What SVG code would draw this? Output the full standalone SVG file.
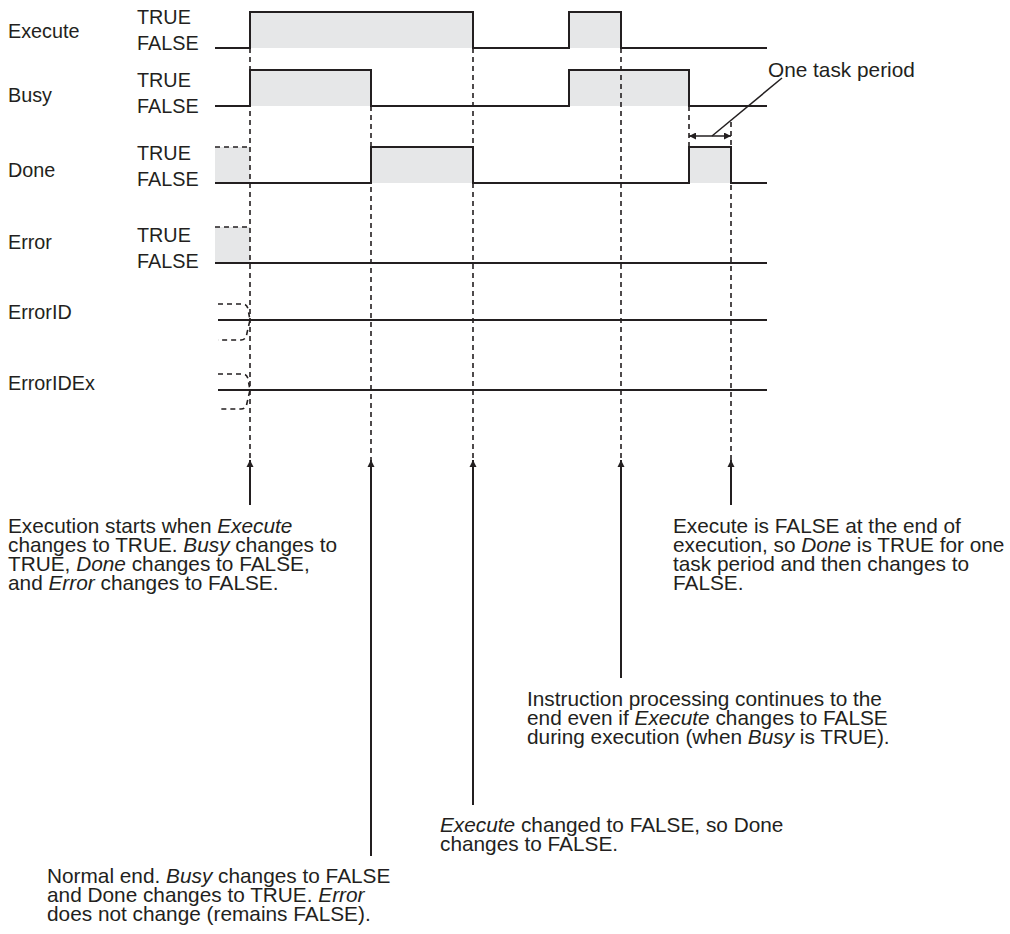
<svg xmlns="http://www.w3.org/2000/svg" width="1010" height="934" viewBox="0 0 1010 934">
<style>
text{font-family:"Liberation Sans",Arial,sans-serif;fill:#231f20}
.lbl{font-size:19.8px}
.body{font-size:20.8px}
.it{font-style:italic}
.sig{fill:none;stroke:#231f20;stroke-width:2}
.gray{fill:#e6e7e8;stroke:none}
.dash{fill:none;stroke:#231f20;stroke-width:1.6;stroke-dasharray:5 4}
.arr{fill:none;stroke:#231f20;stroke-width:2}
.thin{fill:none;stroke:#231f20;stroke-width:1.5}
</style>
<defs>
<marker id="ah" viewBox="0 0 10 10" refX="10" refY="5" markerWidth="7" markerHeight="10" markerUnits="userSpaceOnUse" orient="auto">
<path d="M0,0 L10,5 L0,10 Z" fill="#231f20"/>
</marker>
<marker id="ah2" viewBox="0 0 10 10" refX="10" refY="5" markerWidth="8" markerHeight="7" markerUnits="userSpaceOnUse" orient="auto-start-reverse">
<path d="M0,0 L10,5 L0,10 Z" fill="#231f20"/>
</marker>
</defs>
<rect width="1010" height="934" fill="#ffffff"/>

<g id="execute">
<text class="lbl" x="8" y="38">Execute</text>
<text class="lbl" x="137" y="24">TRUE</text>
<text class="lbl" x="137" y="50">FALSE</text>
<rect class="gray" x="250" y="12" width="223" height="36"/>
<rect class="gray" x="569" y="12" width="52" height="36"/>
<path class="sig" d="M215,48 H250 V12 H473 V48 H569 V12 H621 V48 H767"/>
</g>

<g id="busy">
<text class="lbl" x="8" y="102">Busy</text>
<text class="lbl" x="137" y="87">TRUE</text>
<text class="lbl" x="137" y="113">FALSE</text>
<rect class="gray" x="250" y="70" width="121" height="36"/>
<rect class="gray" x="569" y="70" width="120" height="36"/>
<path class="sig" d="M215,106 H250 V70 H371 V106 H569 V70 H689 V106 H767"/>
</g>

<g id="done">
<text class="lbl" x="8" y="177">Done</text>
<text class="lbl" x="137" y="160">TRUE</text>
<text class="lbl" x="137" y="186">FALSE</text>
<rect class="gray" x="215" y="147" width="35" height="36"/>
<rect class="gray" x="371" y="147" width="102" height="36"/>
<rect class="gray" x="689" y="147" width="42" height="36"/>
<path class="dash" d="M215,147 H250"/>
<path class="sig" d="M215,183 H371 V147 H473 V183 H689 V147 H731 V183 H767"/>
</g>

<g id="error">
<text class="lbl" x="8" y="249">Error</text>
<text class="lbl" x="137" y="242">TRUE</text>
<text class="lbl" x="137" y="268">FALSE</text>
<rect class="gray" x="215" y="227" width="35" height="36"/>
<path class="dash" d="M215,227 H250"/>
<path class="sig" d="M215,263 H767"/>
</g>

<g id="errorid">
<text class="lbl" x="8" y="319">ErrorID</text>
<path class="dash" d="M218,304 H243 Q247,304 248,309 L250,320 L247,333 Q246,340 241,340 H218"/>
<path class="sig" d="M218,320 H767"/>
</g>

<g id="erroridex">
<text class="lbl" x="8" y="390">ErrorIDEx</text>
<path class="dash" d="M218,374 H243 Q247,374 248,379 L250,390 L247,403 Q246,409 241,409 H218"/>
<path class="sig" d="M218,390 H767"/>
</g>

<g id="connectors">
<path class="dash" d="M250,48 V460"/>
<path class="dash" d="M371,106 V460"/>
<path class="dash" d="M473,48 V460"/>
<path class="dash" d="M621,48 V460"/>
<path class="dash" d="M689,106 V147"/>
<path class="dash" d="M731,122 V460"/>
<line class="arr" x1="250" y1="505" x2="250" y2="460" marker-end="url(#ah)"/>
<line class="arr" x1="371" y1="856" x2="371" y2="460" marker-end="url(#ah)"/>
<line class="arr" x1="473" y1="805" x2="473" y2="460" marker-end="url(#ah)"/>
<line class="arr" x1="621" y1="678" x2="621" y2="460" marker-end="url(#ah)"/>
<line class="arr" x1="731" y1="505" x2="731" y2="460" marker-end="url(#ah)"/>
<line class="thin" x1="689" y1="136" x2="731" y2="136" marker-start="url(#ah2)" marker-end="url(#ah2)"/>
<line class="thin" x1="712" y1="136" x2="782" y2="78"/>
</g>

<g id="note-period">
<text class="body" x="768" y="77">One task period</text>
</g>

<g id="note-start">
<text class="body" x="8" y="533">Execution starts when <tspan class="it">Execute</tspan></text>
<text class="body" x="8" y="552">changes to TRUE. <tspan class="it">Busy</tspan> changes to</text>
<text class="body" x="8" y="571">TRUE, <tspan class="it">Done</tspan> changes to FALSE,</text>
<text class="body" x="8" y="590">and <tspan class="it">Error</tspan> changes to FALSE.</text>
</g>

<g id="note-onetask">
<text class="body" x="673" y="533">Execute is FALSE at the end of</text>
<text class="body" x="673" y="552">execution, so <tspan class="it">Done</tspan> is TRUE for one</text>
<text class="body" x="673" y="571">task period and then changes to</text>
<text class="body" x="673" y="590">FALSE.</text>
</g>

<g id="note-continue">
<text class="body" x="527" y="706">Instruction processing continues to the</text>
<text class="body" x="527" y="725">end even if <tspan class="it">Execute</tspan> changes to FALSE</text>
<text class="body" x="527" y="744">during execution (when <tspan class="it">Busy</tspan> is TRUE).</text>
</g>

<g id="note-changed">
<text class="body" x="440" y="832"><tspan class="it">Execute</tspan> changed to FALSE, so Done</text>
<text class="body" x="440" y="851">changes to FALSE.</text>
</g>

<g id="note-normal">
<text class="body" x="47" y="883">Normal end. <tspan class="it">Busy</tspan> changes to FALSE</text>
<text class="body" x="47" y="902">and Done changes to TRUE. <tspan class="it">Error</tspan></text>
<text class="body" x="47" y="921">does not change (remains FALSE).</text>
</g>
</svg>
